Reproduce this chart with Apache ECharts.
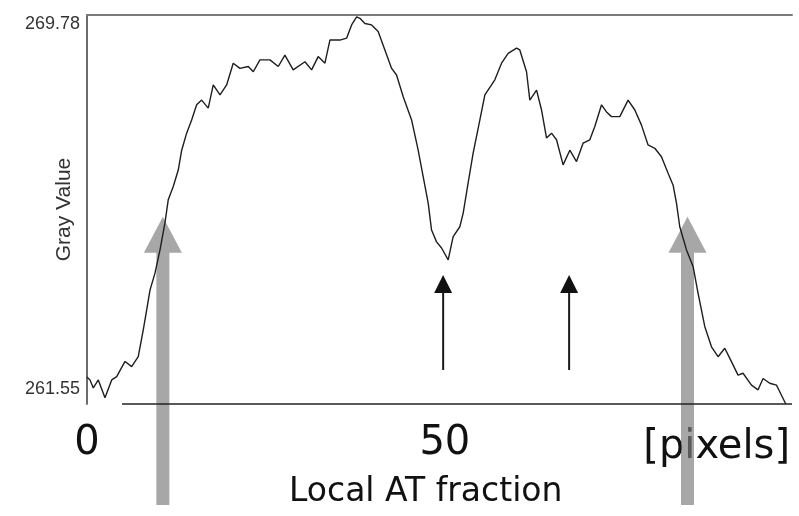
<!DOCTYPE html>
<html>
<head>
<meta charset="utf-8">
<script src="https://cdn.jsdelivr.net/npm/echarts@6/dist/echarts.min.js"></script>
<style>
  html, body { margin: 0; padding: 0; background: #fff; }
  #chart { width: 799px; height: 516px; }
</style>
</head>
<body>
<div id="chart"></div>
<script>
// Gray value profile along the line (position in pixels)
const positions = [0.0,0.42,0.88,1.58,2.51,3.45,4.15,5.31,6.24,7.16,7.86,8.34,8.80,9.50,10.20,10.89,11.35,12.05,12.75,13.23,13.92,14.62,15.32,16.02,16.94,17.64,18.58,19.51,20.43,21.37,22.53,23.23,24.16,25.56,26.72,27.65,28.81,30.45,31.38,32.30,33.24,33.94,35.34,36.27,36.97,37.67,38.13,38.83,39.76,40.68,41.62,42.56,43.25,44.18,45.35,46.27,46.97,47.67,48.14,48.84,49.54,50.46,51.16,52.09,52.56,53.25,53.95,54.89,55.59,56.52,56.98,57.92,58.84,60.01,60.47,61.41,61.87,62.81,63.51,64.20,64.90,65.60,66.52,67.46,68.39,69.32,70.25,70.95,71.89,72.58,73.28,74.44,75.60,76.54,77.47,78.39,79.33,80.26,81.19,81.89,82.36,82.82,83.76,84.68,85.38,86.31,87.25,88.17,89.11,89.80,90.96,91.66,92.84,93.76,94.46,95.39,96.33,96.79,97.63];
const grayValues = [262.12,262.06,261.89,262.06,261.68,262.06,262.13,262.45,262.34,262.55,263.12,263.54,263.96,264.32,264.81,265.38,265.87,266.15,266.50,266.92,267.28,267.56,267.88,267.98,267.81,268.30,268.09,268.30,268.76,268.65,268.69,268.58,268.83,268.83,268.69,268.93,268.62,268.79,268.62,268.90,268.76,269.25,269.25,269.29,269.57,269.74,269.71,269.60,269.57,269.43,269.04,268.65,268.51,268.05,267.56,266.92,266.36,265.80,265.23,264.98,264.85,264.60,265.09,265.30,265.59,266.23,266.86,267.56,268.09,268.30,268.41,268.76,268.97,269.08,269.04,268.58,267.98,268.19,267.77,267.18,267.28,267.14,266.61,266.92,266.68,267.07,267.14,267.42,267.88,267.73,267.63,267.63,267.98,267.77,267.45,267.03,266.96,266.78,266.43,266.18,265.80,265.30,264.81,264.46,263.89,263.19,262.76,262.55,262.73,262.52,262.16,262.20,261.95,261.85,262.09,261.99,261.95,261.81,261.55];

// Axis range and tick labels
const yMin = 261.55, yMax = 269.78;
const xMin = 0, xMax = 98.5;
const xTickValues = [0, 50];
const yTickValues = [261.55, 269.78];

// Annotation arrows: positions along the profile, tip heights (gray value)
const edgeArrowX = [10.6, 83.9];
const edgeArrowTipY = 265.51;
const dipArrowX = [49.76, 67.36];
const dipArrowTipY = 264.28;
const dipArrowTailY = 262.27;

const profile = positions.map((x, i) => [x, grayValues[i]]);

const chart = echarts.init(document.getElementById('chart'));
const GRID = { left: 87, top: 15, right: 7, bottom: 112 };

chart.setOption({
  animation: false,
  backgroundColor: '#ffffff',
  title: {
    text: 'Local AT fraction',
    left: 284, top: 471,
    textStyle: { fontFamily: 'DejaVu Sans', fontSize: 33, fontWeight: 'normal', color: '#111' }
  },
  grid: GRID,
  xAxis: [{
    type: 'value', min: xMin, max: xMax,
    axisLine: { show: false },
    axisTick: { show: false },
    splitLine: { show: false },
    axisLabel: {
      customValues: xTickValues,
      margin: 20,
      fontFamily: 'DejaVu Sans', fontSize: 40, color: '#111'
    },
    name: '[pixels]',
    nameLocation: 'end',
    nameGap: -2,
    nameTextStyle: {
      fontFamily: 'DejaVu Sans', fontSize: 40, color: '#111',
      align: 'right', verticalAlign: 'top', padding: [24, 0, 0, 0]
    }
  }, {
    type: 'value', min: xMin, max: xMax, position: 'top',
    axisLine: { show: true, lineStyle: { color: '#7a7a7a', width: 2 } },
    axisTick: { show: false }, axisLabel: { show: false }, splitLine: { show: false }
  }],
  yAxis: [{
    type: 'value', min: yMin, max: yMax,
    axisLine: { show: true, lineStyle: { color: '#555', width: 1.5 } },
    axisTick: { show: false },
    splitLine: { show: false },
    axisLabel: {
      customValues: yTickValues,
      formatter: v => v.toFixed(2),
      margin: 7,
      verticalAlignMinLabel: 'bottom',
      verticalAlignMaxLabel: 'top',
      padding: [0, 0, 6, 0],
      fontFamily: 'Liberation Sans', fontSize: 18, color: '#333'
    },
    name: 'Gray Value',
    nameLocation: 'middle',
    nameRotate: 90,
    nameGap: 12,
    nameMoveOverlap: false,
    nameTextStyle: { fontFamily: 'Liberation Sans', fontSize: 21, color: '#333' }
  }, {
    type: 'value', min: yMin, max: yMax, position: 'right',
    axisLine: { show: true, lineStyle: { color: '#666', width: 1.5 } },
    axisTick: { show: false }, axisLabel: { show: false }, splitLine: { show: false }
  }],
  series: [{
    type: 'line',
    data: profile,
    showSymbol: false,
    z: 3,
    lineStyle: { color: '#1e1e1e', width: 1.4 }
  }]
});

// Annotations positioned from the chart's own coordinate system
function px(x, y) { return chart.convertToPixel({ gridIndex: 0 }, [x, y]); }

const graphics = [];
const baseL = px(xMin, yMin), baseR = px(xMax, yMin);
// bottom frame line, starting right of the zero label
graphics.push({
  type: 'line', z: 2,
  shape: { x1: baseL[0] + 35, y1: baseL[1], x2: baseR[0], y2: baseR[1] },
  style: { stroke: '#222', lineWidth: 1.5 }
});

edgeArrowX.forEach(x => {
  const tip = px(x, edgeArrowTipY);
  const headH = 36, headW = 38, shaftW = 13, tailY = 505;
  graphics.push({
    type: 'polygon', z: 1,
    shape: { points: [
      [tip[0], tip[1]],
      [tip[0] + headW / 2, tip[1] + headH],
      [tip[0] + shaftW / 2, tip[1] + headH],
      [tip[0] + shaftW / 2, tailY],
      [tip[0] - shaftW / 2, tailY],
      [tip[0] - shaftW / 2, tip[1] + headH],
      [tip[0] - headW / 2, tip[1] + headH]
    ] },
    style: { fill: 'rgba(125,125,125,0.68)' }
  });
});

dipArrowX.forEach(x => {
  const tip = px(x, dipArrowTipY);
  const tail = px(x, dipArrowTailY);
  const headH = 18, headW = 18;
  graphics.push({
    type: 'line', z: 2,
    shape: { x1: tip[0], y1: tip[1] + headH - 1, x2: tail[0], y2: tail[1] },
    style: { stroke: '#1a1a1a', lineWidth: 2 }
  });
  graphics.push({
    type: 'polygon', z: 2,
    shape: { points: [
      [tip[0], tip[1]],
      [tip[0] + headW / 2, tip[1] + headH],
      [tip[0] - headW / 2, tip[1] + headH]
    ] },
    style: { fill: '#111' }
  });
});

chart.setOption({ graphic: graphics });
</script>
</body>
</html>
